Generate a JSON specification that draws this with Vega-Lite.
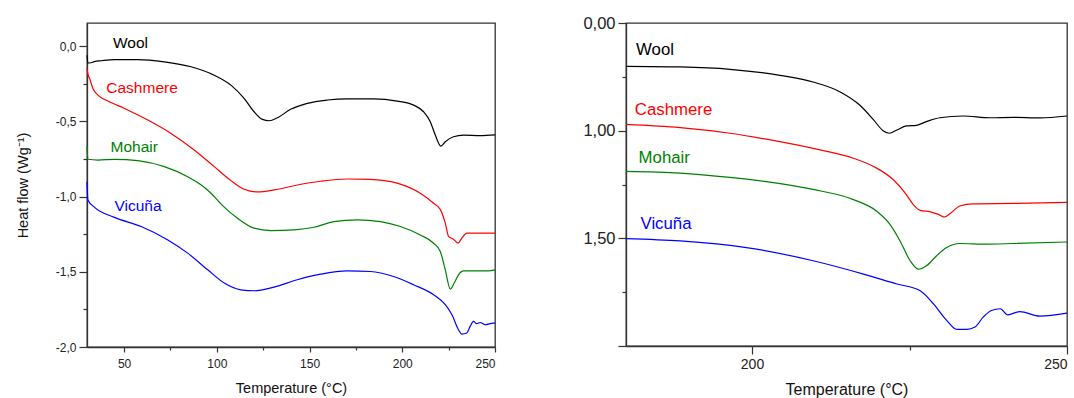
{
  "$schema": "https://vega.github.io/schema/vega-lite/v6.json",
  "padding": {"left": 14, "top": 14, "right": 0, "bottom": 0},
  "spacing": 83,
  "config": {
    "view": {"stroke": "#333", "strokeWidth": 1.3},
    "axis": {"domainColor": "#333", "domainWidth": 1.3, "tickColor": "#333", "tickWidth": 1.2, "labelColor": "#222", "titleColor": "#111", "labelFont": "Liberation Sans", "titleFont": "Liberation Sans", "grid": false, "titleFontWeight": "normal"},
    "text": {"font": "Liberation Sans"}
  },
  "datasets": {
    "leftCurves": [
      {"s": "Wool", "t": 30.0, "h": -0.060}, {"s": "Wool", "t": 30.5, "h": -0.111}, {"s": "Wool", "t": 31.4, "h": -0.112}, {"s": "Wool", "t": 34.0, "h": -0.103}, {"s": "Wool", "t": 37.7, "h": -0.097}, {"s": "Wool", "t": 44.8, "h": -0.089}, {"s": "Wool", "t": 57.4, "h": -0.089}, {"s": "Wool", "t": 71.7, "h": -0.104}, {"s": "Wool", "t": 86.1, "h": -0.137}, {"s": "Wool", "t": 98.6, "h": -0.193}, {"s": "Wool", "t": 107.6, "h": -0.259}, {"s": "Wool", "t": 114.7, "h": -0.347}, {"s": "Wool", "t": 120.1, "h": -0.436}, {"s": "Wool", "t": 124.6, "h": -0.487}, {"s": "Wool", "t": 128.2, "h": -0.496}, {"s": "Wool", "t": 132.7, "h": -0.476}, {"s": "Wool", "t": 139.8, "h": -0.420}, {"s": "Wool", "t": 148.8, "h": -0.380}, {"s": "Wool", "t": 159.6, "h": -0.358}, {"s": "Wool", "t": 170.3, "h": -0.350}, {"s": "Wool", "t": 184.6, "h": -0.350}, {"s": "Wool", "t": 197.2, "h": -0.365}, {"s": "Wool", "t": 206.1, "h": -0.392}, {"s": "Wool", "t": 211.5, "h": -0.436}, {"s": "Wool", "t": 215.1, "h": -0.502}, {"s": "Wool", "t": 217.8, "h": -0.591}, {"s": "Wool", "t": 220.8, "h": -0.664}, {"s": "Wool", "t": 223.2, "h": -0.635}, {"s": "Wool", "t": 227.6, "h": -0.602}, {"s": "Wool", "t": 233.0, "h": -0.591}, {"s": "Wool", "t": 242.0, "h": -0.595}, {"s": "Wool", "t": 250.0, "h": -0.590},
      {"s": "Cashmere", "t": 30.0, "h": -0.148}, {"s": "Cashmere", "t": 30.6, "h": -0.190}, {"s": "Cashmere", "t": 31.4, "h": -0.215}, {"s": "Cashmere", "t": 33.2, "h": -0.281}, {"s": "Cashmere", "t": 35.9, "h": -0.325}, {"s": "Cashmere", "t": 41.3, "h": -0.365}, {"s": "Cashmere", "t": 50.2, "h": -0.414}, {"s": "Cashmere", "t": 62.8, "h": -0.491}, {"s": "Cashmere", "t": 75.3, "h": -0.580}, {"s": "Cashmere", "t": 87.8, "h": -0.690}, {"s": "Cashmere", "t": 98.6, "h": -0.801}, {"s": "Cashmere", "t": 107.6, "h": -0.894}, {"s": "Cashmere", "t": 114.7, "h": -0.951}, {"s": "Cashmere", "t": 121.9, "h": -0.969}, {"s": "Cashmere", "t": 130.9, "h": -0.956}, {"s": "Cashmere", "t": 143.4, "h": -0.923}, {"s": "Cashmere", "t": 156.0, "h": -0.898}, {"s": "Cashmere", "t": 170.3, "h": -0.883}, {"s": "Cashmere", "t": 182.8, "h": -0.885}, {"s": "Cashmere", "t": 197.2, "h": -0.911}, {"s": "Cashmere", "t": 209.7, "h": -0.978}, {"s": "Cashmere", "t": 216.9, "h": -1.044}, {"s": "Cashmere", "t": 220.5, "h": -1.085}, {"s": "Cashmere", "t": 223.2, "h": -1.177}, {"s": "Cashmere", "t": 225.0, "h": -1.266}, {"s": "Cashmere", "t": 227.6, "h": -1.283}, {"s": "Cashmere", "t": 230.0, "h": -1.310}, {"s": "Cashmere", "t": 232.1, "h": -1.277}, {"s": "Cashmere", "t": 234.8, "h": -1.243}, {"s": "Cashmere", "t": 246.3, "h": -1.243}, {"s": "Cashmere", "t": 250.0, "h": -1.243},
      {"s": "Mohair", "t": 30.0, "h": -0.664}, {"s": "Mohair", "t": 30.5, "h": -0.752}, {"s": "Mohair", "t": 35.9, "h": -0.757}, {"s": "Mohair", "t": 44.8, "h": -0.752}, {"s": "Mohair", "t": 57.4, "h": -0.761}, {"s": "Mohair", "t": 71.7, "h": -0.801}, {"s": "Mohair", "t": 84.3, "h": -0.868}, {"s": "Mohair", "t": 91.4, "h": -0.922}, {"s": "Mohair", "t": 95.1, "h": -0.958}, {"s": "Mohair", "t": 99.0, "h": -1.005}, {"s": "Mohair", "t": 103.0, "h": -1.058}, {"s": "Mohair", "t": 111.2, "h": -1.144}, {"s": "Mohair", "t": 120.1, "h": -1.210}, {"s": "Mohair", "t": 129.1, "h": -1.226}, {"s": "Mohair", "t": 141.6, "h": -1.221}, {"s": "Mohair", "t": 152.4, "h": -1.204}, {"s": "Mohair", "t": 163.1, "h": -1.166}, {"s": "Mohair", "t": 175.7, "h": -1.155}, {"s": "Mohair", "t": 188.2, "h": -1.166}, {"s": "Mohair", "t": 199.0, "h": -1.199}, {"s": "Mohair", "t": 209.7, "h": -1.255}, {"s": "Mohair", "t": 216.9, "h": -1.310}, {"s": "Mohair", "t": 220.5, "h": -1.365}, {"s": "Mohair", "t": 223.2, "h": -1.487}, {"s": "Mohair", "t": 225.9, "h": -1.615}, {"s": "Mohair", "t": 228.0, "h": -1.575}, {"s": "Mohair", "t": 230.3, "h": -1.520}, {"s": "Mohair", "t": 233.0, "h": -1.494}, {"s": "Mohair", "t": 246.3, "h": -1.494}, {"s": "Mohair", "t": 250.0, "h": -1.487},
      {"s": "Vicuña", "t": 30.0, "h": -0.901}, {"s": "Vicuña", "t": 30.5, "h": -1.022}, {"s": "Vicuña", "t": 34.1, "h": -1.072}, {"s": "Vicuña", "t": 44.8, "h": -1.138}, {"s": "Vicuña", "t": 59.2, "h": -1.199}, {"s": "Vicuña", "t": 73.6, "h": -1.288}, {"s": "Vicuña", "t": 84.3, "h": -1.376}, {"s": "Vicuña", "t": 95.1, "h": -1.487}, {"s": "Vicuña", "t": 104.0, "h": -1.575}, {"s": "Vicuña", "t": 113.0, "h": -1.620}, {"s": "Vicuña", "t": 120.1, "h": -1.626}, {"s": "Vicuña", "t": 130.9, "h": -1.602}, {"s": "Vicuña", "t": 143.4, "h": -1.553}, {"s": "Vicuña", "t": 156.0, "h": -1.516}, {"s": "Vicuña", "t": 170.3, "h": -1.494}, {"s": "Vicuña", "t": 182.8, "h": -1.498}, {"s": "Vicuña", "t": 195.3, "h": -1.531}, {"s": "Vicuña", "t": 206.1, "h": -1.586}, {"s": "Vicuña", "t": 216.9, "h": -1.653}, {"s": "Vicuña", "t": 223.2, "h": -1.719}, {"s": "Vicuña", "t": 226.8, "h": -1.786}, {"s": "Vicuña", "t": 230.3, "h": -1.885}, {"s": "Vicuña", "t": 232.1, "h": -1.914}, {"s": "Vicuña", "t": 234.8, "h": -1.907}, {"s": "Vicuña", "t": 236.6, "h": -1.863}, {"s": "Vicuña", "t": 238.4, "h": -1.830}, {"s": "Vicuña", "t": 240.2, "h": -1.845}, {"s": "Vicuña", "t": 242.0, "h": -1.837}, {"s": "Vicuña", "t": 244.7, "h": -1.852}, {"s": "Vicuña", "t": 249.1, "h": -1.841}, {"s": "Vicuña", "t": 250.0, "h": -1.841}
    ],
    "leftLabels": [
      {"s": "Wool", "t": 44.0, "h": 0.018},
      {"s": "Cashmere", "t": 40.4, "h": -0.281},
      {"s": "Mohair", "t": 42.7, "h": -0.668},
      {"s": "Vicuña", "t": 44.8, "h": -1.060}
    ],
    "rightCurves": [
      {"s": "Wool", "t": 180.0, "h": 0.701}, {"s": "Wool", "t": 188.6, "h": 0.704}, {"s": "Wool", "t": 196.5, "h": 0.715}, {"s": "Wool", "t": 204.4, "h": 0.743}, {"s": "Wool", "t": 209.7, "h": 0.774}, {"s": "Wool", "t": 214.0, "h": 0.820}, {"s": "Wool", "t": 217.1, "h": 0.881}, {"s": "Wool", "t": 219.3, "h": 0.950}, {"s": "Wool", "t": 220.8, "h": 1.000}, {"s": "Wool", "t": 221.8, "h": 1.012}, {"s": "Wool", "t": 223.0, "h": 0.997}, {"s": "Wool", "t": 224.5, "h": 0.978}, {"s": "Wool", "t": 226.1, "h": 0.975}, {"s": "Wool", "t": 227.7, "h": 0.958}, {"s": "Wool", "t": 229.8, "h": 0.940}, {"s": "Wool", "t": 233.5, "h": 0.932}, {"s": "Wool", "t": 237.8, "h": 0.940}, {"s": "Wool", "t": 241.5, "h": 0.938}, {"s": "Wool", "t": 245.7, "h": 0.941}, {"s": "Wool", "t": 250.0, "h": 0.932},
      {"s": "Cashmere", "t": 180.0, "h": 0.971}, {"s": "Cashmere", "t": 188.6, "h": 0.986}, {"s": "Cashmere", "t": 196.5, "h": 1.012}, {"s": "Cashmere", "t": 204.4, "h": 1.051}, {"s": "Cashmere", "t": 210.8, "h": 1.089}, {"s": "Cashmere", "t": 216.1, "h": 1.128}, {"s": "Cashmere", "t": 219.8, "h": 1.174}, {"s": "Cashmere", "t": 222.4, "h": 1.227}, {"s": "Cashmere", "t": 224.5, "h": 1.297}, {"s": "Cashmere", "t": 225.6, "h": 1.343}, {"s": "Cashmere", "t": 226.7, "h": 1.370}, {"s": "Cashmere", "t": 228.3, "h": 1.377}, {"s": "Cashmere", "t": 229.6, "h": 1.389}, {"s": "Cashmere", "t": 230.5, "h": 1.401}, {"s": "Cashmere", "t": 231.4, "h": 1.386}, {"s": "Cashmere", "t": 233.0, "h": 1.350}, {"s": "Cashmere", "t": 235.1, "h": 1.340}, {"s": "Cashmere", "t": 241.5, "h": 1.338}, {"s": "Cashmere", "t": 250.0, "h": 1.333},
      {"s": "Mohair", "t": 180.0, "h": 1.189}, {"s": "Mohair", "t": 188.6, "h": 1.197}, {"s": "Mohair", "t": 196.5, "h": 1.217}, {"s": "Mohair", "t": 202.3, "h": 1.237}, {"s": "Mohair", "t": 209.7, "h": 1.273}, {"s": "Mohair", "t": 216.1, "h": 1.320}, {"s": "Mohair", "t": 219.8, "h": 1.374}, {"s": "Mohair", "t": 221.9, "h": 1.435}, {"s": "Mohair", "t": 223.5, "h": 1.512}, {"s": "Mohair", "t": 225.1, "h": 1.604}, {"s": "Mohair", "t": 226.4, "h": 1.643}, {"s": "Mohair", "t": 227.7, "h": 1.627}, {"s": "Mohair", "t": 229.3, "h": 1.581}, {"s": "Mohair", "t": 230.9, "h": 1.543}, {"s": "Mohair", "t": 233.0, "h": 1.524}, {"s": "Mohair", "t": 237.2, "h": 1.527}, {"s": "Mohair", "t": 241.5, "h": 1.524}, {"s": "Mohair", "t": 250.0, "h": 1.517},
      {"s": "Vicuña", "t": 180.0, "h": 1.501}, {"s": "Vicuña", "t": 188.6, "h": 1.512}, {"s": "Vicuña", "t": 199.1, "h": 1.543}, {"s": "Vicuña", "t": 209.7, "h": 1.604}, {"s": "Vicuña", "t": 217.7, "h": 1.666}, {"s": "Vicuña", "t": 223.0, "h": 1.712}, {"s": "Vicuña", "t": 226.7, "h": 1.743}, {"s": "Vicuña", "t": 228.8, "h": 1.804}, {"s": "Vicuña", "t": 230.9, "h": 1.881}, {"s": "Vicuña", "t": 232.5, "h": 1.923}, {"s": "Vicuña", "t": 234.1, "h": 1.923}, {"s": "Vicuña", "t": 235.4, "h": 1.912}, {"s": "Vicuña", "t": 236.7, "h": 1.866}, {"s": "Vicuña", "t": 238.0, "h": 1.835}, {"s": "Vicuña", "t": 239.4, "h": 1.827}, {"s": "Vicuña", "t": 240.6, "h": 1.855}, {"s": "Vicuña", "t": 242.5, "h": 1.840}, {"s": "Vicuña", "t": 245.7, "h": 1.861}, {"s": "Vicuña", "t": 250.0, "h": 1.847}
    ],
    "rightLabels": [
      {"s": "Wool", "t": 181.6, "h": 0.625},
      {"s": "Cashmere", "t": 181.4, "h": 0.904},
      {"s": "Mohair", "t": 182.0, "h": 1.128},
      {"s": "Vicuña", "t": 182.3, "h": 1.435}
    ]
  },
  "hconcat": [
    {
      "width": 408,
      "height": 324,
      "layer": [
        {
          "data": {"name": "leftCurves"},
          "mark": {"type": "line", "strokeWidth": 1.2, "interpolate": "monotone"},
          "encoding": {
            "x": {"field": "t", "type": "quantitative", "scale": {"domain": [30, 250], "nice": false, "zero": false},
              "axis": {"title": "Temperature (°C)", "values": [50, 75, 100, 125, 150, 175, 200, 225, 250], "labelExpr": "datum.value % 50 == 0 ? datum.label : ''", "tickSize": {"condition": {"test": "datum.value % 50 == 0", "value": 5}, "value": 3}, "labelFontSize": 12, "labelPadding": 6, "titleFontSize": 14.5, "titlePadding": 12}},
            "y": {"field": "h", "type": "quantitative", "scale": {"domain": [-2, 0.154], "nice": false, "zero": false},
              "axis": {"title": "Heat flow (Wg⁻¹)", "values": [-2, -1.75, -1.5, -1.25, -1, -0.75, -0.5, -0.25, 0], "labelExpr": "datum.value % 0.5 == 0 ? ((datum.value < 0 ? '-' : '') + replace(format(abs(datum.value), '.1f'), '.', ',')) : ''", "tickSize": {"condition": {"test": "datum.value % 0.5 == 0", "value": 8}, "value": 4}, "labelFontSize": 12, "labelPadding": 3, "titleFontSize": 14.5, "titlePadding": 25}},
            "color": {"field": "s", "type": "nominal", "scale": {"domain": ["Wool", "Cashmere", "Mohair", "Vicuña"], "range": ["#000000", "#ff0000", "#008000", "#0000ff"]}, "legend": null},
            "detail": {"field": "s"}
          }
        },
        {
          "data": {"name": "leftLabels"},
          "mark": {"type": "text", "align": "left", "baseline": "middle", "fontSize": 15.5},
          "encoding": {
            "x": {"field": "t", "type": "quantitative"},
            "y": {"field": "h", "type": "quantitative"},
            "text": {"field": "s"},
            "color": {"field": "s", "type": "nominal", "legend": null}
          }
        }
      ]
    },
    {
      "width": 441,
      "height": 323,
      "layer": [
        {
          "data": {"name": "rightCurves"},
          "mark": {"type": "line", "strokeWidth": 1.2, "interpolate": "monotone"},
          "encoding": {
            "x": {"field": "t", "type": "quantitative", "scale": {"domain": [180, 250], "nice": false, "zero": false},
              "axis": {"title": "Temperature (°C)", "values": [200, 225, 250], "labelExpr": "datum.value % 50 == 0 ? datum.label : ''", "tickSize": {"condition": {"test": "datum.value % 50 == 0", "value": 8}, "value": 4}, "labelFontSize": 14, "labelPadding": 3, "titleFontSize": 16, "titlePadding": 10}},
            "y": {"field": "h", "type": "quantitative", "scale": {"domain": [0.5, 2.0], "reverse": true, "nice": false, "zero": false},
              "axis": {"title": null, "values": [0.5, 0.75, 1, 1.25, 1.5, 1.75, 2], "labelExpr": "datum.value == 0.5 ? '0,00' : datum.value == 1 ? '1,00' : datum.value == 1.5 ? '1,50' : ''", "tickSize": {"condition": {"test": "datum.value % 0.5 == 0", "value": 8}, "value": 4}, "labelFontSize": 16.5, "labelPadding": 3}},
            "color": {"field": "s", "type": "nominal", "scale": {"domain": ["Wool", "Cashmere", "Mohair", "Vicuña"], "range": ["#000000", "#ff0000", "#008000", "#0000ff"]}, "legend": null},
            "detail": {"field": "s"}
          }
        },
        {
          "data": {"name": "rightLabels"},
          "mark": {"type": "text", "align": "left", "baseline": "middle", "fontSize": 16.8},
          "encoding": {
            "x": {"field": "t", "type": "quantitative"},
            "y": {"field": "h", "type": "quantitative"},
            "text": {"field": "s"},
            "color": {"field": "s", "type": "nominal", "legend": null}
          }
        }
      ]
    }
  ]
}
